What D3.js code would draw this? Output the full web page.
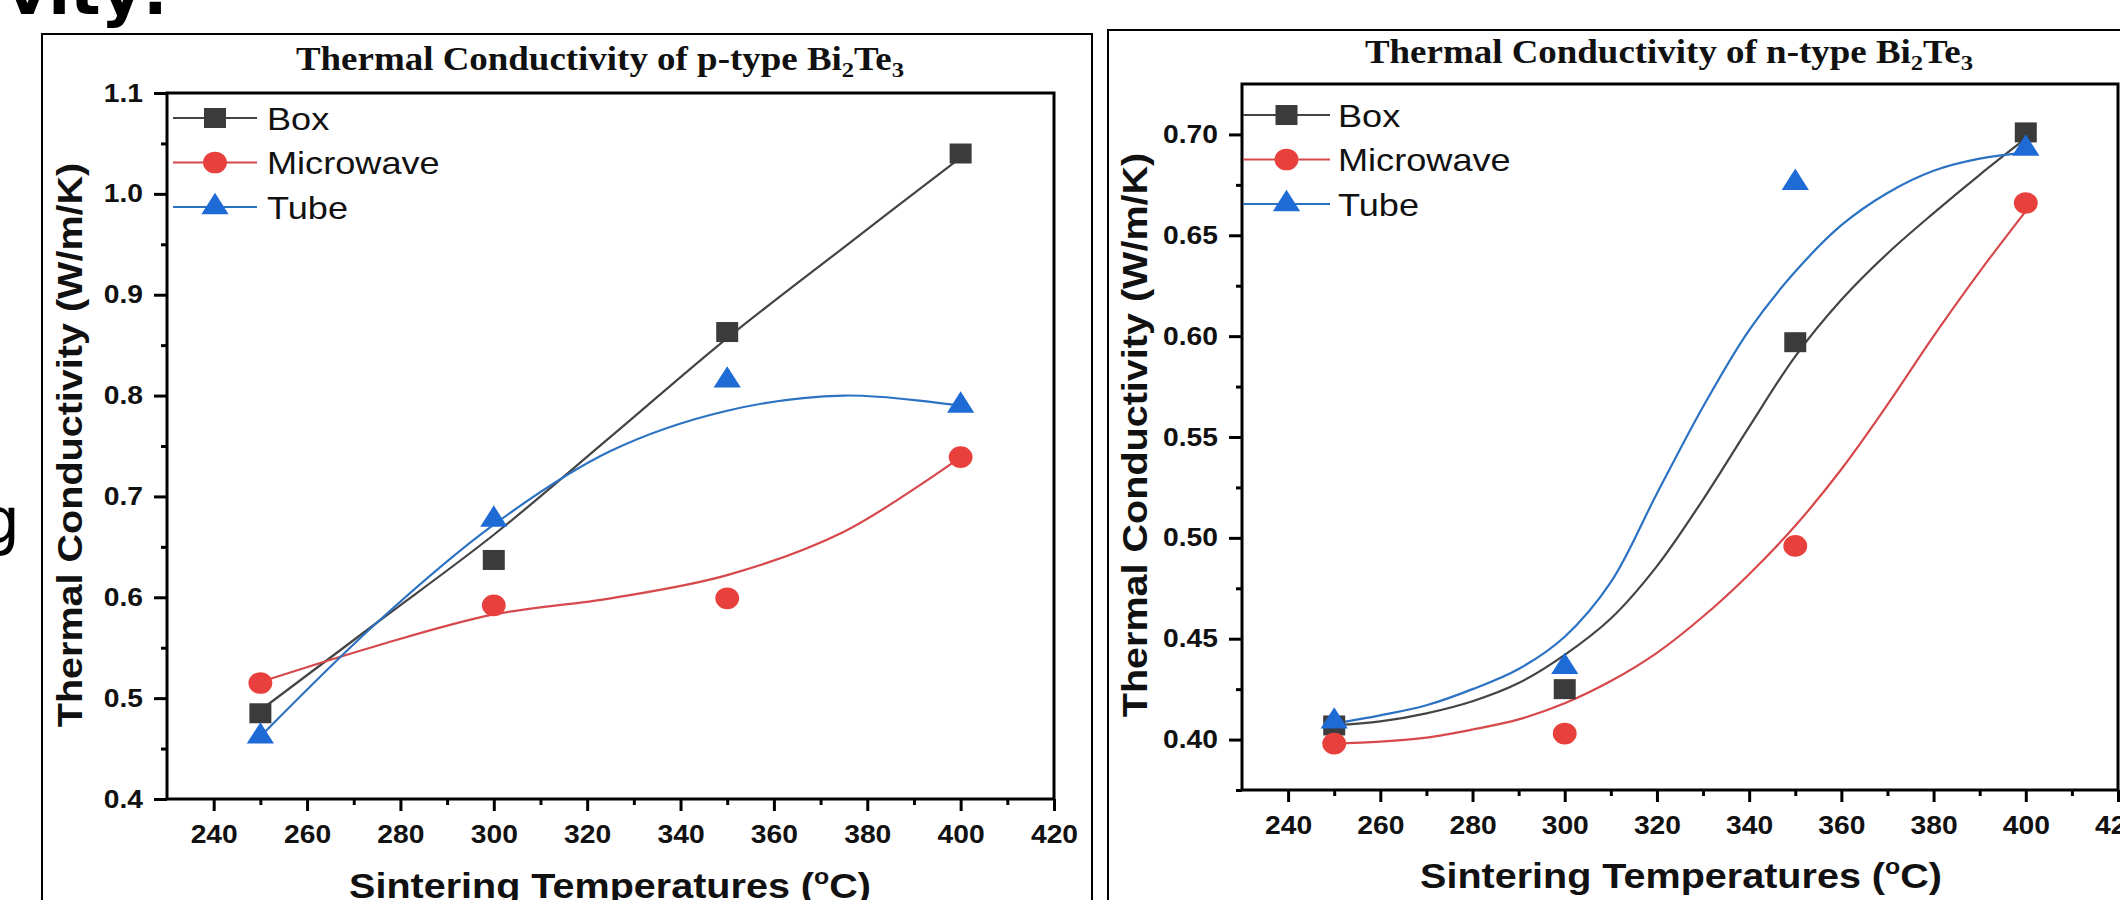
<!DOCTYPE html>
<html>
<head>
<meta charset="utf-8">
<script src="https://cdn.jsdelivr.net/npm/d3@7"></script>
<style>
  body { margin: 0; background: #fff; }
  svg { display: block; }
</style>
</head>
<body>
<svg id="chart"></svg>
<script>
// Size of the picture
const width = 2120;
const height = 900;

// Data: sintering temperatures and series
const seriesNames = ["Box", "Microwave", "Tube"];
const temps = [250, 300, 350, 400];

// p-type Bi2Te3
const pBox = [0.485, 0.637, 0.863, 1.040];
const pMicrowave = [0.515, 0.592, 0.599, 0.739];
const pTube = [0.462, 0.677, 0.815, 0.790];
// fitted curves
const pFitTemps = [250, 275, 300, 325, 350, 375, 400];
const pBoxFit = [0.488, 0.575, 0.662, 0.759, 0.857, 0.947, 1.036];
const pMicrowaveFit = [0.516, 0.552, 0.583, 0.599, 0.622, 0.665, 0.739];
const pTubeFit = [0.462, 0.575, 0.672, 0.745, 0.785, 0.800, 0.790];

// n-type Bi2Te3
const nBox = [0.407, 0.425, 0.597, 0.701];
const nMicrowave = [0.398, 0.403, 0.496, 0.666];
const nTube = [0.409, 0.436, 0.676, 0.693];
const nFitTemps = [250, 260, 270, 280, 290, 300, 310, 320, 330, 340, 350, 360, 370, 380, 390, 400];
const nBoxFit = [0.407, 0.409, 0.413, 0.419, 0.428, 0.442, 0.460, 0.486, 0.519, 0.555, 0.590, 0.618, 0.641, 0.661, 0.680, 0.698];
const nMicrowaveFit = [0.398, 0.399, 0.401, 0.405, 0.410, 0.418, 0.429, 0.443, 0.461, 0.482, 0.506, 0.534, 0.566, 0.600, 0.632, 0.662];
const nTubeFit = [0.408, 0.412, 0.417, 0.425, 0.435, 0.451, 0.478, 0.522, 0.565, 0.603, 0.632, 0.655, 0.671, 0.682, 0.688, 0.691];

// Ticks
const xTicks = [240, 260, 280, 300, 320, 340, 360, 380, 400, 420];
const xMinorTicks = [250, 270, 290, 310, 330, 350, 370, 390, 410];
const pYTicks = [0.4, 0.5, 0.6, 0.7, 0.8, 0.9, 1.0, 1.1];
const pYMinorTicks = [0.45, 0.55, 0.65, 0.75, 0.85, 0.95, 1.05];
const nYTicks = [0.40, 0.45, 0.50, 0.55, 0.60, 0.65, 0.70];
const nYMinorTicks = [0.375, 0.425, 0.475, 0.525, 0.575, 0.625, 0.675];

// Styles
const markerColors = ["#3b3b3b", "#e8403c", "#1e6bd6"];
const lineColors = ["#444444", "#d6484b", "#2c72c2"];
const symbols = [d3.symbolSquare, d3.symbolCircle, d3.symbolTriangle];
const symbolSizes = [400, 370, 265];
const SANS = "'Liberation Sans', Arial, sans-serif";
const SERIF = "'Liberation Serif', 'Times New Roman', serif";

const svg = d3.select("#chart")
    .attr("width", width)
    .attr("height", height);

svg.append("rect").attr("width", width).attr("height", height).attr("fill", "#fff");

// the figure's glyphs are a bit wider than the fonts we have
function stretch(sel, k = 1.13) {
    sel.each(function () {
        const t = d3.select(this);
        const x = +t.attr("x") || 0;
        const prev = t.attr("transform") || "";
        t.attr("transform", `${prev} translate(${x},0) scale(${k},1) translate(${-x},0)`);
    });
}

// leftovers of the slide behind the figures
svg.append("text")
    .attr("x", 168).attr("y", 14)
    .attr("text-anchor", "end")
    .style("font", "bold 64px 'DejaVu Sans'")
    .text("vity:");
svg.append("text")
    .attr("x", 20).attr("y", 543)
    .attr("text-anchor", "end")
    .style("font", "64px 'DejaVu Sans'")
    .text("g");

const panels = [
    {
        frame: { x: 42, y: 34, w: 1050 },
        box: { left: 167, right: 1054, top: 93, bottom: 799 },
        yDomain: [0.4, 1.1], yTicks: pYTicks, yMinor: pYMinorTicks, yFormat: d3.format(".1f"),
        type: "p", titleX: 600, titleY: 70,
        yLabelX: 82, yLabelY: 445, xLabelX: 610, xLabelY: 898,
        legend: { x1: 173, x2: 257, textX: 267, y: 118, gap: 44.5 },
        points: [pBox, pMicrowave, pTube],
        fitTemps: pFitTemps, fits: [pBoxFit, pMicrowaveFit, pTubeFit]
    },
    {
        frame: { x: 1108, y: 30, w: 1100 },
        box: { left: 1242, right: 2118, top: 84, bottom: 790 },
        yDomain: [0.375, 0.725], yTicks: nYTicks, yMinor: nYMinorTicks, yFormat: d3.format(".2f"),
        type: "n", titleX: 1669, titleY: 63,
        yLabelX: 1147, yLabelY: 435, xLabelX: 1681, xLabelY: 888,
        legend: { x1: 1243, x2: 1330, textX: 1338, y: 115, gap: 44.5 },
        points: [nBox, nMicrowave, nTube],
        fitTemps: nFitTemps, fits: [nBoxFit, nMicrowaveFit, nTubeFit]
    }
];

panels.forEach(drawPanel);

function drawPanel(p) {
    const g = svg.append("g");
    const b = p.box;

    // outer frame of the figure
    g.append("rect")
        .attr("x", p.frame.x).attr("y", p.frame.y)
        .attr("width", p.frame.w).attr("height", height)
        .attr("fill", "none").attr("stroke", "#000").attr("stroke-width", 2);

    const x = d3.scaleLinear().domain([230, 420]).range([b.left, b.right]);
    const y = d3.scaleLinear().domain(p.yDomain).range([b.bottom, b.top]);

    // minor ticks
    g.append("g")
        .attr("transform", `translate(0,${b.bottom})`)
        .call(d3.axisBottom(x).tickValues(xMinorTicks).tickSize(6).tickFormat(""))
        .call(a => a.select(".domain").remove())
        .selectAll("line").attr("stroke-width", 3);
    g.append("g")
        .attr("transform", `translate(${b.left},0)`)
        .call(d3.axisLeft(y).tickValues(p.yMinor).tickSize(6).tickFormat(""))
        .call(a => a.select(".domain").remove())
        .selectAll("line").attr("stroke-width", 3);

    // major ticks
    const xAxis = g.append("g")
        .attr("transform", `translate(0,${b.bottom})`)
        .call(d3.axisBottom(x).tickValues(xTicks).tickSize(12).tickPadding(14).tickFormat(d3.format("d")))
        .call(a => a.select(".domain").remove());
    const yAxis = g.append("g")
        .attr("transform", `translate(${b.left},0)`)
        .call(d3.axisLeft(y).tickValues(p.yTicks).tickSize(13).tickPadding(11).tickFormat(p.yFormat))
        .call(a => a.select(".domain").remove());

    [xAxis, yAxis].forEach(a => {
        a.attr("font-family", SANS).attr("font-size", 25).attr("font-weight", "bold");
        a.selectAll("line").attr("stroke-width", 3);
        a.selectAll("text").attr("fill", "#111").call(stretch);
    });

    // plot box
    g.append("rect")
        .attr("x", b.left).attr("y", b.top)
        .attr("width", b.right - b.left).attr("height", b.bottom - b.top)
        .attr("fill", "none").attr("stroke", "#000").attr("stroke-width", 3);

    // fitted curves
    const line = d3.line()
        .x(d => x(d[0]))
        .y(d => y(d[1]))
        .curve(d3.curveCatmullRom.alpha(0.5));

    p.fits.forEach((fit, i) => {
        g.append("path")
            .datum(d3.zip(p.fitTemps, fit))
            .attr("d", line)
            .attr("fill", "none")
            .attr("stroke", lineColors[i])
            .attr("stroke-width", 2.2);
    });

    // measured points
    p.points.forEach((vals, i) => {
        g.selectAll(null)
            .data(d3.zip(temps, vals))
            .join("path")
            .attr("d", d3.symbol().type(symbols[i]).size(symbolSizes[i]))
            .attr("transform", d => `translate(${x(d[0])},${y(d[1])}) scale(1.1,1)`)
            .attr("fill", markerColors[i]);
    });

    // legend
    const lg = p.legend;
    seriesNames.forEach((name, i) => {
        const ly = lg.y + i * lg.gap;
        g.append("line")
            .attr("x1", lg.x1).attr("x2", lg.x2)
            .attr("y1", ly).attr("y2", ly)
            .attr("stroke", lineColors[i]).attr("stroke-width", 2.2);
        g.append("path")
            .attr("d", d3.symbol().type(symbols[i]).size(symbolSizes[i]))
            .attr("transform", `translate(${(lg.x1 + lg.x2) / 2},${ly}) scale(1.1,1)`)
            .attr("fill", markerColors[i]);
        g.append("text")
            .attr("x", lg.textX).attr("y", ly).attr("dy", "0.36em")
            .style("font", `32px ${SANS}`)
            .attr("fill", "#111")
            .text(name)
            .call(stretch);
    });

    // title
    const title = g.append("text")
        .attr("x", p.titleX).attr("y", p.titleY)
        .attr("text-anchor", "middle")
        .style("font", `bold 33px ${SERIF}`)
        .attr("fill", "#111");
    title.append("tspan").text(`Thermal Conductivity of ${p.type}-type Bi`);
    title.append("tspan").attr("font-size", 22).attr("dy", 7).text("2");
    title.append("tspan").attr("dy", -7).text("Te");
    title.append("tspan").attr("font-size", 22).attr("dy", 7).text("3");
    title.call(stretch, 1.12);

    // axis titles
    g.append("text")
        .attr("transform", `translate(${p.yLabelX},${p.yLabelY}) rotate(-90)`)
        .attr("text-anchor", "middle")
        .style("font", `bold 35px ${SANS}`)
        .attr("fill", "#111")
        .text("Thermal Conductivity (W/m/K)")
        .call(stretch);

    const xl = g.append("text")
        .attr("x", p.xLabelX).attr("y", p.xLabelY)
        .attr("text-anchor", "middle")
        .style("font", `bold 35px ${SANS}`)
        .attr("fill", "#111");
    xl.append("tspan").text("Sintering Temperatures (");
    xl.append("tspan").attr("font-size", 22).attr("dy", -14).text("o");
    xl.append("tspan").attr("dy", 14).text("C)");
    xl.call(stretch);
}
</script>
</body>
</html>
